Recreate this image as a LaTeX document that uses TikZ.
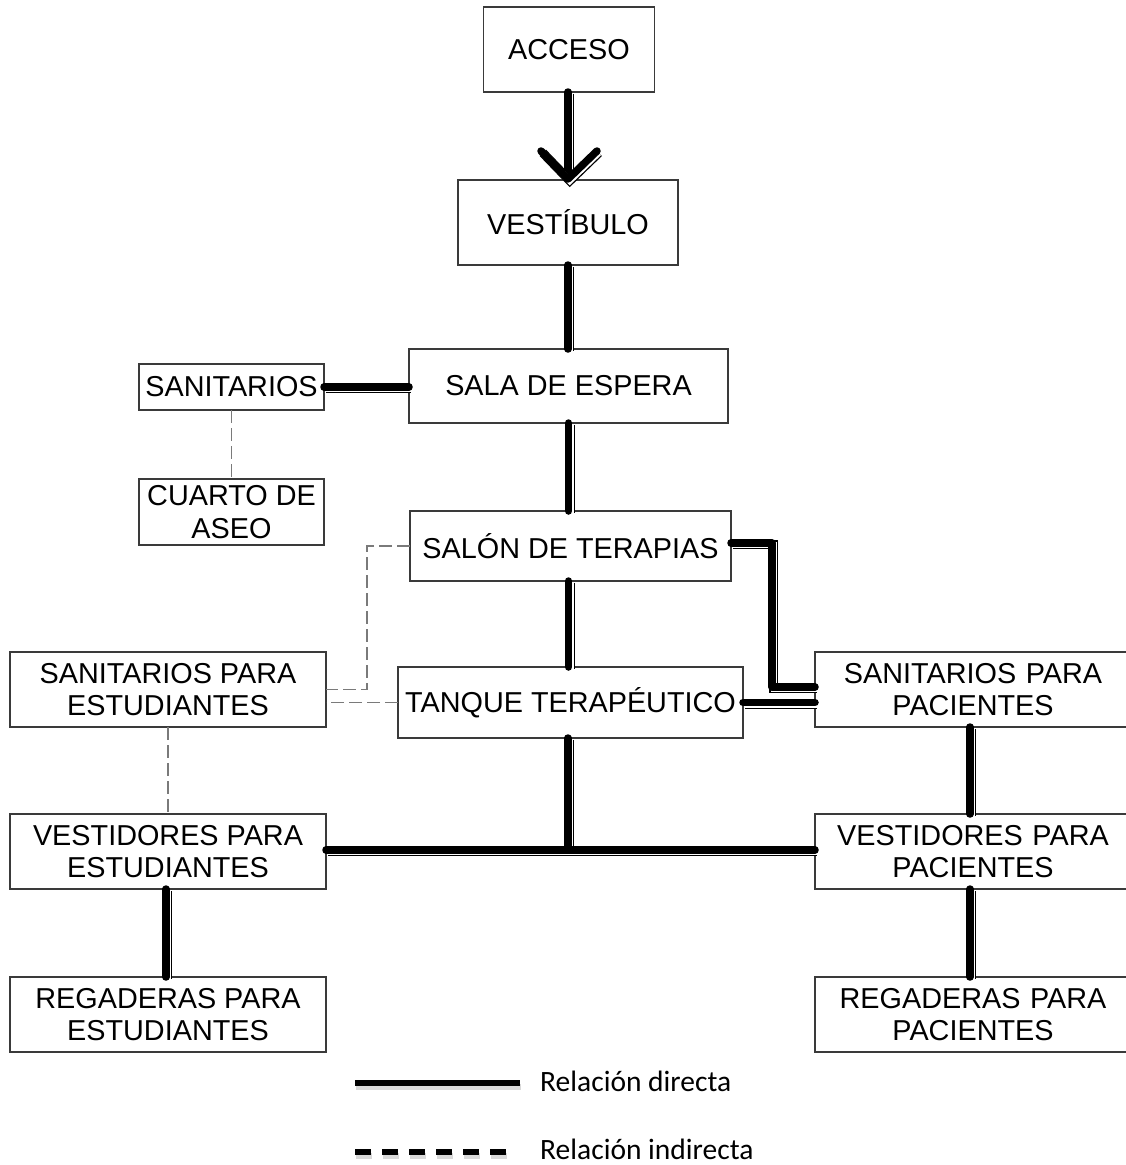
\documentclass[tikz,border=0pt]{standalone}
\usepackage{fontspec}
\setmainfont{Liberation Sans}
\newfontfamily\legendfont{Carlito}
\usetikzlibrary{calc}
\definecolor{boxline}{HTML}{3A3A3A}
\definecolor{dashgray}{HTML}{7A7A7A}
\begin{document}
\begin{tikzpicture}[x=1pt,y=-1pt,
  box/.style={draw=boxline, line width=1.1pt, inner sep=0pt, outer sep=0pt,
    align=center, font=\fontsize{28.8}{32.5}\selectfont},
  rel/.style={draw=black, line width=7.5pt, line cap=round, line join=round,
    preaction={draw=black, line width=9pt, transform canvas={shift={(1.8,1.8)}}},
    preaction={draw=white, line width=6.4pt, transform canvas={shift={(1.8,1.8)}}}},
  ind/.style={draw=dashgray, line width=1.3pt, dash pattern=on 13pt off 5pt},
  legtext/.style={anchor=west, inner sep=0pt, font=\legendfont\fontsize{29.5}{32}\selectfont}]

\useasboundingbox (0,0) rectangle (1126,1165);

% rooms
\node[box, minimum width=171pt, minimum height=85pt] (acc) at (569,49.5) {ACCESO};
\node[box, minimum width=220pt, minimum height=85pt] (ves) at (568,222.5) {VESTÍBULO};
\node[box, minimum width=319pt, minimum height=74pt] (sala) at (568.5,386) {SALA DE ESPERA};
\node[box, minimum width=185pt, minimum height=46pt] (sanit) at (231.5,387) {SANITARIOS};
\node[box, minimum width=185pt, minimum height=66pt] (cuarto) at (231.5,512) {CUARTO DE\\ASEO};
\node[box, minimum width=321pt, minimum height=70pt] (salon) at (570.5,546) {SALÓN DE TERAPIAS};
\node[box, minimum width=345pt, minimum height=71pt] (tanque) at (570.5,702.5) {TANQUE TERAPÉUTICO};
\node[box, minimum width=316pt, minimum height=75pt] (sanest) at (168,689.5) {SANITARIOS PARA\\ESTUDIANTES};
\node[box, minimum width=316pt, minimum height=75pt, text width=310pt] (sanpac) at (973,689.5) {SANITARIOS PARA\\PACIENTES};
\node[box, minimum width=316pt, minimum height=75pt] (vesest) at (168,851.5) {VESTIDORES PARA\\ESTUDIANTES};
\node[box, minimum width=316pt, minimum height=75pt, text width=310pt] (vespac) at (973,851.5) {VESTIDORES PARA\\PACIENTES};
\node[box, minimum width=316pt, minimum height=75pt] (regest) at (168,1014.5) {REGADERAS PARA\\ESTUDIANTES};
\node[box, minimum width=316pt, minimum height=75pt, text width=310pt] (regpac) at (973,1014.5) {REGADERAS PARA\\PACIENTES};

% indirect relations
\draw[ind] (sanit.south) -- (cuarto.north);
\draw[ind] (salon.west) -- ++(-43,0) |- (sanest.east);
\draw[ind] (tanque.west) -- (tanque.west -| sanest.east);
\draw[ind] (sanest.south) -- (vesest.north);

% direct relations
\coordinate (tip) at (568,179);
\draw[rel] (acc.south -| tip) -- (tip);
\draw[rel] (541,151) -- (tip) -- (597,151);
\draw[rel] (ves.south) -- (sala.north -| ves.south);
\draw[rel] (sanit.east) -- (sanit.east -| sala.west);
\draw[rel] (sala.south) -- (salon.north -| sala.south);
\draw[rel] (salon.south -| sala.south) -- (tanque.north -| sala.south);
\draw[rel] ($(salon.east)+(0,-3)$) -- ++(41,0) |- ($(sanpac.west)+(0,-2.5)$);
\draw[rel] (tanque.east) -- (tanque.east -| sanpac.west);
\coordinate (bus) at (568,850);
\draw[rel] (tanque.south -| bus) -- (bus);
\draw[rel] (vesest.east |- bus) -- (vespac.west |- bus);
\draw[rel] ($(sanpac.south)+(-3,0)$) -- ($(vespac.north)+(-3,0)$);
\draw[rel] ($(vespac.south)+(-3,0)$) -- ($(regpac.north)+(-3,0)$);
\draw[rel] ($(vesest.south)+(-2,0)$) -- ($(regest.north)+(-2,0)$);

% legend
\coordinate (ls1) at (355,1083);
\coordinate (ls2) at (520,1083);
\coordinate (ld1) at (355,1152);
\coordinate (ld2) at (510,1152);
\draw[line width=6pt, black!25, opacity=0.6, transform canvas={shift={(1,4)}}] (ls1) -- (ls2);
\draw[line width=6pt, black] (ls1) -- (ls2);
\draw[line width=6pt, black!25, opacity=0.6, dash pattern=on 16pt off 11pt, transform canvas={shift={(1,4)}}] (ld1) -- (ld2);
\draw[line width=6pt, black, dash pattern=on 16pt off 11pt] (ld1) -- (ld2);
\node[legtext] (ldir) at (540,1081) {Relación directa};
\node[legtext] (lind) at (540,1149) {Relación indirecta};
\end{tikzpicture}
\end{document}
